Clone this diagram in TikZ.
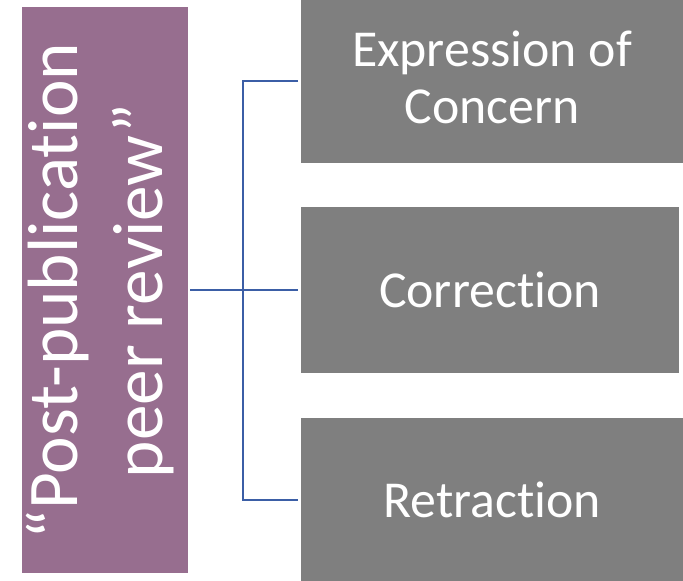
\documentclass[tikz,border=0pt]{standalone}
\usepackage{fontspec}
\setmainfont{Carlito}[Ligatures=NoCommon]
\definecolor{ppurple}{HTML}{976E8F}
\definecolor{pgray}{HTML}{7F7F7F}
\definecolor{pblue}{HTML}{3B5EA6}
\begin{document}
\begin{tikzpicture}[x=1bp,y=-1bp,
  sidebox/.style={fill=ppurple, inner sep=0pt, outer sep=0pt,
    minimum width=166bp, minimum height=566bp},
  sidetext/.style={text=white, rotate=90, align=center, inner sep=0pt,
    font=\fontsize{71.5}{86}\selectfont},
  graybox/.style={fill=pgray, inner sep=0pt, outer sep=0pt, minimum height=163bp},
  graytext/.style={text=white, align=center, inner sep=0pt, font=\fontsize{52}{57}\selectfont},
  conn/.style={draw=pblue, line width=2bp}]
\useasboundingbox (0,0) rectangle (683,581);
\node[sidebox] (pp) at (105,290) {};
\node[sidetext] (ppt) at (100,291) {“Post-publication\\peer review”};
\node[graybox, minimum width=382bp] (b1) at (492,81) {};
\node[graytext] (b1t) at (492,77) {Expression of\\Concern};
\node[graybox, minimum width=378bp, minimum height=166bp] (b2) at (490,290) {};
\node[graytext] (b2t) at (490,290) {Correction};
\node[graybox, minimum width=382bp] (b3) at (492,499.5) {};
\node[graytext] (b3t) at (492,499.5) {Retraction};
\coordinate (j) at (243,290);
\draw[conn] ([xshift=2bp]pp.east) -- ([xshift=-3bp]b2.west);
\draw[conn] ([xshift=-3bp]b1.west) -| (j) |- ([xshift=-3bp]b3.west);
\end{tikzpicture}
\end{document}
